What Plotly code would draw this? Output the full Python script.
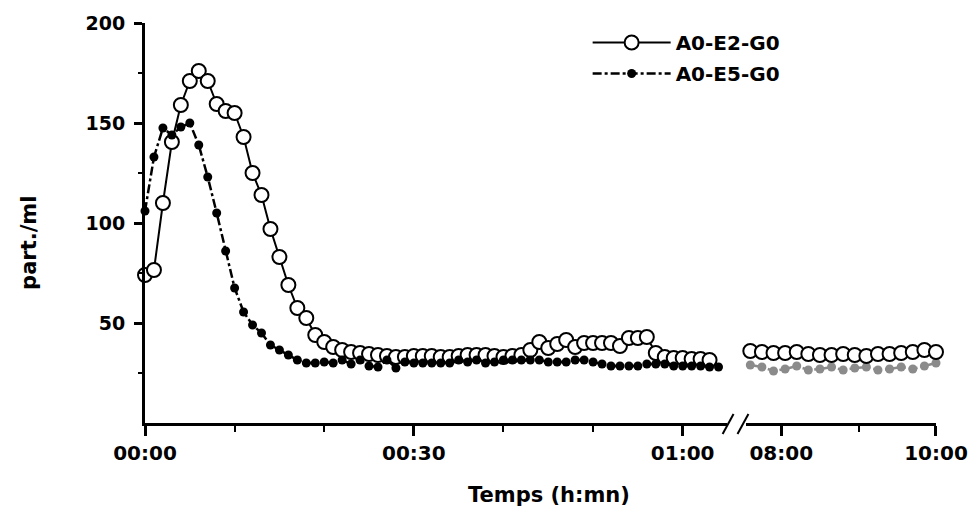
import plotly.graph_objects as go

# ---------------- data ----------------
# left segment: minutes after start
t_left_e2 = list(range(0, 64))
e2_left = [74, 76.5, 110, 140.5, 159, 171, 176, 171, 159.5, 156,
           155, 143, 125, 114, 97, 83, 69, 57.5, 52.5, 44,
           40.5, 38, 36.5, 35.5, 35, 34.5, 34, 33.5, 33, 33,
           33.5, 33.5, 33.5, 33, 33, 33.5, 34, 34, 34, 33.5,
           33, 33.5, 34, 36.5, 40.5, 37.5, 39.5, 41.5, 38, 40,
           40, 40, 40, 38.5, 42.5, 42.5, 43, 35, 33, 32.5,
           32.5, 32, 32, 31.5]

t_left_e5 = list(range(0, 65))
e5_left = [106, 133, 147.5, 144, 148, 150, 139, 123, 105, 86,
           67.5, 55.5, 49, 45, 39, 36.5, 34, 31.5, 30, 30,
           30.5, 30, 31.5, 29.5, 31.5, 28.5, 28, 31.5, 27.5, 30.5,
           30, 30, 30, 30, 30, 31.5, 30.5, 31.5, 30, 30.5,
           31.5, 31.5, 31.5, 31.5, 31.5, 30.5, 30.5, 30.5, 31.5, 31.5,
           30.5, 29.5, 28.5, 28.5, 28.5, 28.5, 29.5, 29.5, 29.5, 28.5,
           28.5, 28.5, 28.5, 28, 28]

# right segment: hours after start
t_right = [7.6, 7.75, 7.9, 8.05, 8.2, 8.35, 8.5, 8.65, 8.8, 8.95,
           9.1, 9.25, 9.4, 9.55, 9.7, 9.85, 10.0]
e2_right = [36, 35.5, 35, 35, 35.5, 34.5, 34, 34, 34.5, 34,
            33.5, 34.5, 34.5, 35, 35.5, 36.5, 35.5]
e5_right = [29, 28, 26, 27, 28.5, 26.5, 27, 28, 26.5, 27.5,
            28, 26.5, 27, 28, 27, 28.5, 30]

y_ticks = [50, 100, 150, 200]
y_minor = [25, 75, 125, 175]
x1_ticks = [0, 30, 60]
x1_text = ["00:00", "00:30", "01:00"]
x1_minor = [10, 20, 40, 50]
x2_ticks = [8, 10]
x2_text = ["08:00", "10:00"]
x2_minor = [9]

FONT = "DejaVu Sans"

# ---------------- figure ----------------
fig = go.Figure()

e2_style = dict(mode="lines+markers", cliponaxis=False,
                line=dict(color="black", width=2),
                marker=dict(symbol="circle", size=14, color="white",
                            line=dict(color="black", width=2)))
e5_style = dict(mode="lines+markers", cliponaxis=False,
                line=dict(color="black", width=2.5, dash="dashdot"),
                marker=dict(symbol="circle", size=9, color="black"))

fig.add_trace(go.Scatter(x=t_left_e2, y=e2_left, name="A0-E2-G0",
                         legendgroup="e2", xaxis="x", yaxis="y", **e2_style))
fig.add_trace(go.Scatter(x=t_right, y=e2_right, name="A0-E2-G0",
                         legendgroup="e2", showlegend=False,
                         xaxis="x2", yaxis="y", **e2_style))
fig.add_trace(go.Scatter(x=t_left_e5, y=e5_left, name="A0-E5-G0",
                         legendgroup="e5", xaxis="x", yaxis="y", **e5_style))
fig.add_trace(go.Scatter(x=t_right, y=e5_right, name="A0-E5-G0",
                         legendgroup="e5", showlegend=False, opacity=0.45,
                         xaxis="x2", yaxis="y", **e5_style))

L, R, T, B = 145, 38, 23, 92
W, H = 980, 515
PW, PH = W - L - R, H - T - B


def px(x):
    return (x - L) / PW


def py(y):
    return (H - B - y) / PH


axis_common = dict(showline=True, linewidth=3, linecolor="black",
                   ticks="outside", tickcolor="black", showgrid=False,
                   zeroline=False, anchor="y")

fig.update_layout(
    width=W, height=H,
    margin=dict(l=L, r=R, t=T, b=B),
    paper_bgcolor="white", plot_bgcolor="white",
    font=dict(family=FONT, color="black", size=20, weight="bold"),
    showlegend=True,
    legend=dict(x=px(591), y=1.0, xanchor="left", yanchor="top",
                bgcolor="rgba(0,0,0,0)", itemwidth=78, tracegroupgap=2,
                font=dict(family=FONT, size=20, weight="bold", color="black")),
    xaxis=dict(domain=[0, px(731)], range=[0, 64.9],
               tickvals=x1_ticks, ticktext=x1_text, ticklen=10, tickwidth=2.5,
               tickfont=dict(size=20),
               minor=dict(tickvals=x1_minor, ticks="outside", ticklen=6,
                          tickwidth=2, tickcolor="black", showgrid=False),
               **axis_common),
    xaxis2=dict(domain=[px(751), 1], range=[7.55, 10.0],
                tickvals=x2_ticks, ticktext=x2_text, ticklen=10, tickwidth=2.5,
                tickfont=dict(size=20),
                minor=dict(tickvals=x2_minor, ticks="outside", ticklen=6,
                           tickwidth=2, tickcolor="black", showgrid=False),
                **axis_common),
    yaxis=dict(range=[0, 200], anchor="x",
               showline=True, linewidth=3, linecolor="black",
               ticks="outside", tickcolor="black", showgrid=False, zeroline=False,
               tickvals=y_ticks, ticklen=8, tickwidth=2.5,
               ticklabelstandoff=5,
               tickfont=dict(size=19),
               minor=dict(tickvals=y_minor, ticks="outside", ticklen=4,
                          tickwidth=2, tickcolor="black", showgrid=False)),
    annotations=[
        dict(text="part./ml", xref="paper", yref="paper",
             x=px(28), y=py(243), textangle=-90, showarrow=False,
             xanchor="center", yanchor="middle",
             font=dict(family=FONT, size=21, weight="bold", color="black")),
        dict(text="Temps (h:mn)", xref="paper", yref="paper",
             x=px(552), y=py(495), showarrow=False,
             xanchor="center", yanchor="middle",
             font=dict(family=FONT, size=21, weight="bold", color="black")),
    ],
    shapes=[
        dict(type="line", xref="paper", yref="paper",
             x0=px(727), y0=py(434), x1=px(738), y1=py(414),
             line=dict(color="black", width=2)),
        dict(type="line", xref="paper", yref="paper",
             x0=px(742), y0=py(434), x1=px(753), y1=py(414),
             line=dict(color="black", width=2)),
    ],
)

fig.write_html("out.html")
